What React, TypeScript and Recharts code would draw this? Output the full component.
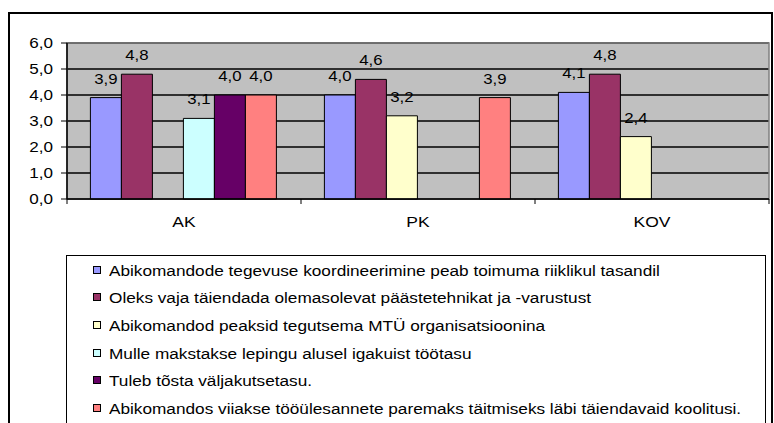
import React from 'react';
import { BarChart, Bar, XAxis, YAxis, CartesianGrid, ReferenceArea, LabelList } from 'recharts';

const categories = ['AK', 'PK', 'KOV'];
const coordination = [3.9, 4.0, 4.1];
const equipment = [4.8, 4.6, 4.8];
const ngo = [null, 3.2, 2.4];
const salary = [3.1, null, null];
const callFee = [4.0, null, null];
const training = [4.0, 3.9, null];
const yTicks = [0, 1, 2, 3, 4, 5, 6];

const seriesNames = [
  'Abikomandode tegevuse koordineerimine peab toimuma riiklikul tasandil',
  'Oleks vaja täiendada olemasolevat päästetehnikat ja -varustust',
  'Abikomandod peaksid tegutsema MTÜ organisatsioonina',
  'Mulle makstakse lepingu alusel igakuist töötasu',
  'Tuleb tõsta väljakutsetasu.',
  'Abikomandos viiakse tööülesannete paremaks täitmiseks läbi täiendavaid koolitusi.',
];
const seriesColors = ['#9999FF', '#993366', '#FFFFCC', '#CCFFFF', '#660066', '#FF8080'];
const seriesValues = [coordination, equipment, ngo, salary, callFee, training];

const data = categories.map((c, i) => {
  const row: Record<string, any> = { name: c };
  seriesValues.forEach((vals, s) => {
    row['s' + s] = vals[i];
  });
  return row;
});

const FONT = '"Liberation Sans", Arial, sans-serif';
const CHART_W = 774;
const CHART_H = 240;
const PLOT_LEFT = 67;
const PLOT_RIGHT = 769;
const PLOT_TOP = 43;
const PLOT_BOTTOM = 199;
const Y_AXIS_W = 60;
const X_AXIS_H = 30;
const BAND = (PLOT_RIGHT - PLOT_LEFT) / categories.length;

const fmt = (v: number) => v.toFixed(1).replace('.', ',');

const YTick = (props: any) => {
  const { x, y, payload } = props;
  return (
    <text
      transform={`translate(${x},${y}) scale(1.22,1)`}
      x={0}
      y={0}
      dy={5}
      textAnchor="end"
      fontSize={14}
      fontFamily={FONT}
      fill="#000"
    >
      {fmt(payload.value)}
    </text>
  );
};

const XTick = (props: any) => {
  const { x, y, payload, index } = props;
  const left = x - BAND / 2;
  const right = x + BAND / 2;
  return (
    <g>
      <line x1={left} y1={y} x2={left} y2={y + 5} stroke="#000" strokeWidth={1} />
      {index === categories.length - 1 && (
        <line x1={right} y1={y} x2={right} y2={y + 5} stroke="#000" strokeWidth={1} />
      )}
      <text
        transform={`translate(${x},${y + 28}) scale(1.25,1)`}
        x={0}
        y={0}
        textAnchor="middle"
        fontSize={14}
        fontFamily={FONT}
        fill="#000"
      >
        {payload.value}
      </text>
    </g>
  );
};

const BarLabel = (props: any) => {
  const { x, y, width, value } = props;
  if (value === null || value === undefined) return null;
  const cx = Number(x) + Number(width) / 2;
  return (
    <text
      transform={`translate(${cx},${Number(y) - 14}) scale(1.2,1)`}
      x={0}
      y={0}
      textAnchor="middle"
      fontSize={14}
      fontFamily={FONT}
      fill="#000"
    >
      {fmt(Number(value))}
    </text>
  );
};

export default function App() {
  return (
    <div style={{ position: 'relative', width: 774, height: 423, overflow: 'hidden', background: '#fff' }}>
      <style>{`html,body{margin:0;padding:0;overflow:hidden;background:#fff}`}</style>
      <div
        style={{
          position: 'absolute',
          left: 8,
          top: 12,
          width: 765,
          height: 440,
          border: '2px solid #000',
          boxSizing: 'border-box',
        }}
      />
      <div style={{ position: 'absolute', left: 0, top: 0 }}>
        <BarChart
          width={CHART_W}
          height={CHART_H}
          data={data}
          margin={{
            top: PLOT_TOP,
            right: CHART_W - PLOT_RIGHT,
            bottom: CHART_H - PLOT_BOTTOM - X_AXIS_H,
            left: PLOT_LEFT - Y_AXIS_W,
          }}
          barCategoryGap="10%"
          barGap={0}
        >
          <CartesianGrid vertical={false} fill="#C0C0C0" stroke="#000" strokeWidth={1.5} />
          <ReferenceArea y1={0} y2={6} fill="none" stroke="#808080" strokeWidth={1.5} ifOverflow="visible" />
          <XAxis
            dataKey="name"
            height={X_AXIS_H}
            tickLine={false}
            tickSize={0}
            tickMargin={0}
            axisLine={{ stroke: '#000', strokeWidth: 1.5 }}
            tick={<XTick />}
            interval={0}
          />
          <YAxis
            width={Y_AXIS_W}
            domain={[0, 6]}
            ticks={yTicks}
            tickSize={6}
            tickMargin={8}
            tickLine={{ stroke: '#000' }}
            axisLine={{ stroke: '#000', strokeWidth: 1.5 }}
            tick={<YTick />}
            interval={0}
          />
          {seriesNames.map((n, s) => (
            <Bar
              key={n}
              dataKey={'s' + s}
              name={n}
              fill={seriesColors[s]}
              stroke="#000"
              strokeWidth={1}
              isAnimationActive={false}
            >
              <LabelList dataKey={'s' + s} content={<BarLabel />} />
            </Bar>
          ))}
        </BarChart>
      </div>
      <div
        style={{
          position: 'absolute',
          left: 66,
          top: 255,
          width: 700,
          height: 200,
          border: '1px solid #000',
          boxSizing: 'border-box',
          paddingTop: 1,
          paddingLeft: 26,
          fontFamily: FONT,
        }}
      >
        {seriesNames.map((n, s) => (
          <div key={n} style={{ display: 'flex', alignItems: 'center', height: 27.6 }}>
            <span
              style={{
                display: 'inline-block',
                width: 8,
                height: 8,
                boxSizing: 'border-box',
                border: '1px solid #000',
                background: seriesColors[s],
                marginRight: 8,
                marginTop: -2,
                flexShrink: 0,
              }}
            />
            <span
              style={{
                display: 'inline-block',
                fontSize: 15.5,
                whiteSpace: 'nowrap',
                transform: 'scaleX(1.11)',
                transformOrigin: 'left center',
                color: '#000',
              }}
            >
              {n}
            </span>
          </div>
        ))}
      </div>
    </div>
  );
}
